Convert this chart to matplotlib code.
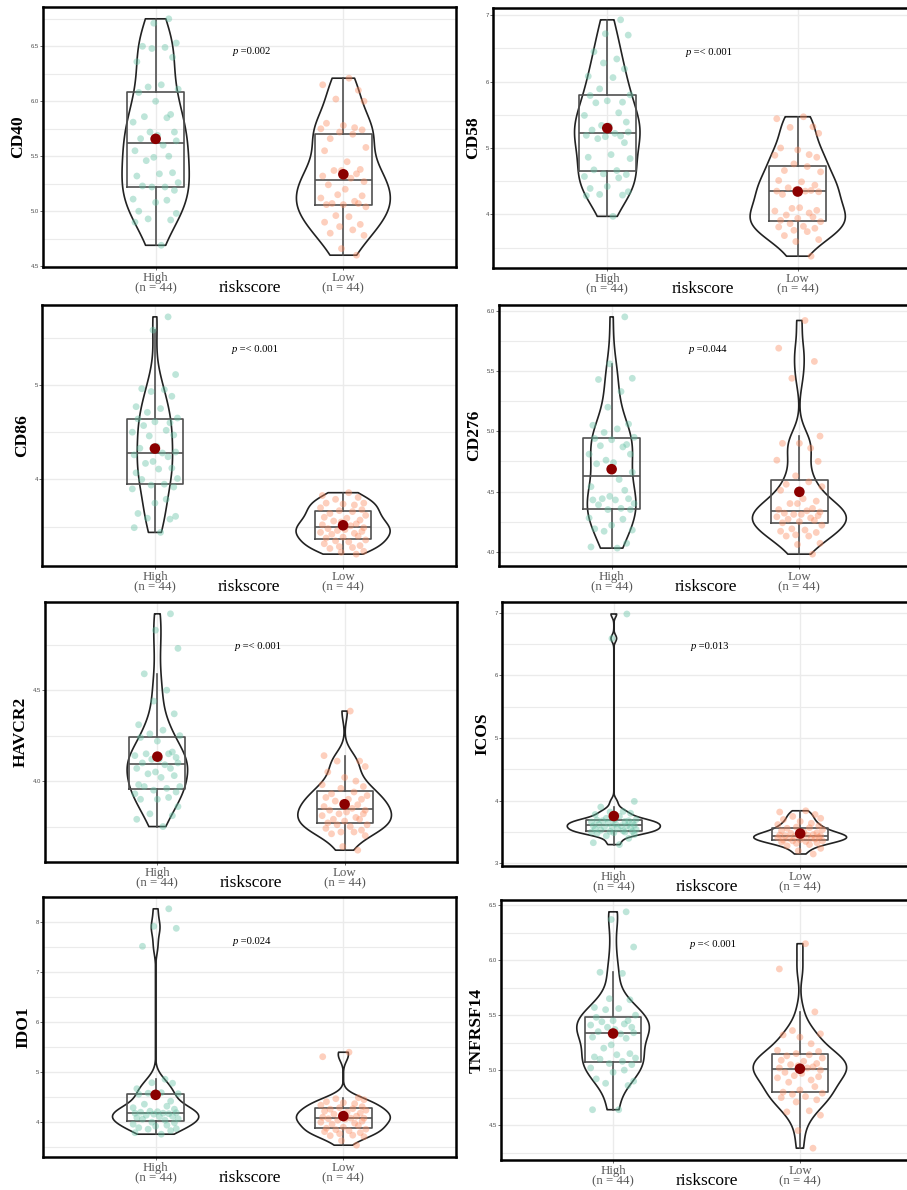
import numpy as np
import matplotlib
matplotlib.use('Agg')
import matplotlib.pyplot as plt
from matplotlib import cbook, mlab
from matplotlib.ticker import MultipleLocator, FormatStrFormatter

plt.rcParams['font.family'] = ['Liberation Sans', 'DejaVu Sans']

# ---- data (44 samples per risk group) ----
genes = ['CD40', 'CD58', 'CD86', 'CD276', 'HAVCR2', 'ICOS', 'IDO1', 'TNFRSF14']
p_labels = ['=0.002', '=< 0.001', '=< 0.001', '=0.044',
            '=< 0.001', '=0.013', '=0.024', '=< 0.001']
groups = ['High', 'Low']
group_n = [44, 44]

cd40_high = [4.69, 4.90, 4.92, 4.93, 4.98, 5.00, 5.08, 5.10, 5.11, 5.19,
             5.22, 5.22, 5.23, 5.26, 5.32, 5.34, 5.35, 5.46, 5.49, 5.50,
             5.55, 5.60, 5.64, 5.66, 5.69, 5.72, 5.72, 5.81, 5.85, 5.86,
             5.88, 6.00, 6.08, 6.11, 6.13, 6.15, 6.36, 6.40, 6.48, 6.49,
             6.50, 6.53, 6.71, 6.75]
cd40_low = [4.60, 4.66, 4.78, 4.80, 4.83, 4.86, 4.88, 4.90, 4.95, 4.96,
            5.04, 5.06, 5.06, 5.07, 5.07, 5.09, 5.12, 5.14, 5.15, 5.20,
            5.24, 5.27, 5.30, 5.32, 5.34, 5.37, 5.37, 5.38, 5.45, 5.55,
            5.58, 5.66, 5.70, 5.72, 5.74, 5.75, 5.76, 5.78, 5.80, 6.00,
            6.02, 6.10, 6.15, 6.21]
cd58_high = [3.97, 4.28, 4.29, 4.30, 4.34, 4.39, 4.42, 4.55, 4.57, 4.60,
             4.61, 4.66, 4.67, 4.84, 4.86, 4.90, 5.08, 5.14, 5.17, 5.18,
             5.19, 5.22, 5.24, 5.27, 5.33, 5.34, 5.39, 5.49, 5.53, 5.68,
             5.69, 5.71, 5.79, 5.80, 5.89, 6.06, 6.08, 6.19, 6.28, 6.34,
             6.45, 6.70, 6.72, 6.93]
cd58_low = [3.37, 3.59, 3.62, 3.68, 3.74, 3.76, 3.79, 3.81, 3.82, 3.86,
            3.89, 3.91, 3.94, 3.96, 3.99, 4.02, 4.05, 4.06, 4.09, 4.10,
            4.30, 4.34, 4.35, 4.35, 4.36, 4.37, 4.40, 4.44, 4.49, 4.51,
            4.64, 4.66, 4.72, 4.76, 4.86, 4.89, 4.90, 4.97, 5.00, 5.22,
            5.31, 5.32, 5.44, 5.47]
cd86_high = [3.44, 3.49, 3.58, 3.59, 3.61, 3.64, 3.75, 3.79, 3.90, 3.92,
             3.94, 3.95, 4.00, 4.01, 4.07, 4.11, 4.12, 4.17, 4.19, 4.24,
             4.26, 4.28, 4.29, 4.33, 4.35, 4.46, 4.47, 4.50, 4.52, 4.57,
             4.60, 4.61, 4.64, 4.65, 4.71, 4.75, 4.77, 4.88, 4.93, 4.95,
             4.96, 5.11, 5.58, 5.72]
cd86_low = [3.21, 3.23, 3.24, 3.27, 3.28, 3.29, 3.30, 3.32, 3.34, 3.35,
            3.36, 3.38, 3.39, 3.40, 3.42, 3.43, 3.44, 3.45, 3.46, 3.47,
            3.48, 3.49, 3.51, 3.52, 3.53, 3.55, 3.56, 3.57, 3.59, 3.60,
            3.62, 3.64, 3.66, 3.67, 3.68, 3.70, 3.73, 3.74, 3.75, 3.75,
            3.79, 3.81, 3.83, 3.86]
cd276_high = [4.03, 4.04, 4.07, 4.17, 4.18, 4.19, 4.22, 4.27, 4.28, 4.35,
              4.35, 4.36, 4.39, 4.40, 4.43, 4.43, 4.44, 4.44, 4.46, 4.51,
              4.54, 4.60, 4.66, 4.73, 4.74, 4.76, 4.81, 4.81, 4.87, 4.88,
              4.89, 4.93, 4.94, 4.95, 4.99, 5.02, 5.05, 5.06, 5.20, 5.33,
              5.43, 5.44, 5.56, 5.95]
cd276_low = [3.98, 4.06, 4.07, 4.13, 4.13, 4.14, 4.16, 4.17, 4.18, 4.19,
             4.22, 4.24, 4.25, 4.26, 4.27, 4.28, 4.29, 4.30, 4.31, 4.31,
             4.32, 4.33, 4.34, 4.35, 4.36, 4.40, 4.40, 4.42, 4.44, 4.51,
             4.54, 4.56, 4.58, 4.63, 4.75, 4.76, 4.86, 4.90, 4.90, 4.96,
             5.44, 5.58, 5.69, 5.92]
havcr2_high = [3.75, 3.79, 3.81, 3.82, 3.86, 3.90, 3.90, 3.91, 3.93, 3.94,
               3.95, 3.96, 3.97, 3.97, 3.98, 4.02, 4.03, 4.04, 4.05, 4.07,
               4.07, 4.09, 4.10, 4.10, 4.12, 4.12, 4.13, 4.14, 4.15, 4.15,
               4.16, 4.22, 4.24, 4.25, 4.26, 4.28, 4.31, 4.37, 4.44, 4.50,
               4.59, 4.73, 4.83, 4.92]
havcr2_low = [3.62, 3.64, 3.70, 3.71, 3.72, 3.72, 3.73, 3.74, 3.75, 3.76,
              3.76, 3.77, 3.78, 3.79, 3.79, 3.80, 3.81, 3.82, 3.82, 3.83,
              3.84, 3.84, 3.85, 3.86, 3.87, 3.88, 3.89, 3.90, 3.90, 3.91,
              3.92, 3.93, 3.94, 3.96, 3.97, 3.98, 4.00, 4.02, 4.05, 4.08,
              4.11, 4.11, 4.14, 4.385]
icos_high = [3.30, 3.33, 3.40, 3.44, 3.46, 3.48, 3.49, 3.50, 3.50, 3.51,
             3.51, 3.52, 3.53, 3.54, 3.55, 3.56, 3.57, 3.58, 3.59, 3.60,
             3.60, 3.60, 3.61, 3.62, 3.63, 3.64, 3.65, 3.66, 3.67, 3.68,
             3.68, 3.69, 3.69, 3.70, 3.72, 3.75, 3.78, 3.80, 3.82, 3.83,
             3.90, 3.99, 6.59, 6.98]
icos_low = [3.15, 3.20, 3.24, 3.28, 3.30, 3.32, 3.33, 3.34, 3.35, 3.36,
            3.36, 3.37, 3.38, 3.39, 3.40, 3.40, 3.41, 3.42, 3.43, 3.43,
            3.44, 3.44, 3.45, 3.45, 3.46, 3.47, 3.48, 3.49, 3.50, 3.52,
            3.54, 3.56, 3.57, 3.58, 3.60, 3.62, 3.64, 3.67, 3.70, 3.72,
            3.75, 3.78, 3.82, 3.84]
ido1_high = [3.75, 3.78, 3.82, 3.85, 3.86, 3.88, 3.91, 3.93, 3.95, 3.98,
             3.99, 4.03, 4.05, 4.06, 4.08, 4.10, 4.11, 4.13, 4.15, 4.16,
             4.17, 4.17, 4.18, 4.19, 4.20, 4.21, 4.25, 4.28, 4.31, 4.35,
             4.41, 4.50, 4.55, 4.56, 4.57, 4.58, 4.66, 4.77, 4.78, 4.85,
             7.51, 7.87, 7.91, 8.26]
ido1_low = [3.53, 3.62, 3.70, 3.72, 3.73, 3.76, 3.78, 3.80, 3.82, 3.84,
            3.85, 3.87, 3.89, 3.92, 3.95, 3.97, 3.99, 4.01, 4.03, 4.05,
            4.06, 4.07, 4.07, 4.09, 4.11, 4.13, 4.15, 4.17, 4.19, 4.21,
            4.23, 4.25, 4.26, 4.28, 4.30, 4.33, 4.36, 4.38, 4.40, 4.44,
            4.46, 4.48, 5.30, 5.39]
tnfrsf14_high = [4.64, 4.64, 4.86, 4.88, 4.90, 4.92, 4.98, 5.00, 5.02, 5.05,
                 5.06, 5.08, 5.10, 5.11, 5.12, 5.14, 5.15, 5.20, 5.23, 5.29,
                 5.30, 5.33, 5.34, 5.35, 5.37, 5.39, 5.39, 5.41, 5.42, 5.44,
                 5.45, 5.45, 5.48, 5.50, 5.55, 5.56, 5.57, 5.64, 5.65, 5.88,
                 5.89, 6.12, 6.37, 6.44]
tnfrsf14_low = [4.29, 4.45, 4.59, 4.62, 4.63, 4.71, 4.73, 4.75, 4.76, 4.78,
                4.79, 4.80, 4.82, 4.85, 4.89, 4.91, 4.93, 4.94, 4.95, 4.97,
                4.98, 5.00, 5.02, 5.02, 5.03, 5.04, 5.05, 5.06, 5.08, 5.09,
                5.11, 5.13, 5.14, 5.15, 5.17, 5.18, 5.24, 5.30, 5.32, 5.33,
                5.36, 5.53, 5.92, 6.15]

high_values = [cd40_high, cd58_high, cd86_high, cd276_high,
               havcr2_high, icos_high, ido1_high, tnfrsf14_high]
low_values = [cd40_low, cd58_low, cd86_low, cd276_low,
              havcr2_low, icos_low, ido1_low, tnfrsf14_low]

# horizontal jitter offsets for the points
jitter = [0.03, -0.11, 0.08, -0.04, 0.11, -0.09, 0.00, 0.06, -0.12, 0.10,
          -0.02, 0.05, -0.07, 0.12, -0.10, 0.02, 0.09, -0.05, -0.01, 0.07,
          -0.11, 0.04, 0.11, -0.08, 0.01, -0.03, 0.10, -0.12, 0.06, -0.06,
          0.08, 0.00, -0.09, 0.12, -0.04, 0.03, -0.10, 0.09, -0.02, 0.05,
          -0.07, 0.11, -0.01, 0.07]

# ---- layout (pixel boxes of each panel: left, top, right, bottom) ----
W, H = 907, 1190
boxes = [(43, 7, 456, 267), (493, 8, 912, 268),
         (42, 305, 456, 566), (499, 305, 912, 566),
         (45, 602, 457, 862), (502, 602, 912, 866),
         (43, 897, 456, 1157), (501, 900, 912, 1160)]
tick_steps = [0.5, 1, 1, 0.5, 0.5, 1, 1, 0.5]

colors = ['#66C2A5', '#FC8D62']
serif = 'Liberation Serif'
box_c = '#505050'


def nrd0_kde(x, coords):
    # gaussian kde with R's default bandwidth (bw.nrd0)
    x = np.asarray(x, dtype=float)
    sd = np.std(x, ddof=1)
    q75, q25 = np.percentile(x, [75, 25])
    bw = 0.9 * min(sd, (q75 - q25) / 1.34) * len(x) ** -0.2
    kde = mlab.GaussianKDE(x, bw_method=bw / sd)
    return kde.evaluate(coords)


fig = plt.figure(figsize=(W / 100, H / 100), dpi=100)

for i, gene in enumerate(genes):
    l, t, r, b = boxes[i]
    ax = fig.add_axes([l / W, 1 - b / H, (r - l) / W, (b - t) / H])
    data = [np.array(high_values[i]), np.array(low_values[i])]

    # violins, area-scaled like ggplot
    stats = cbook.violin_stats(data, nrd0_kde, points=200)
    peaks = [s['vals'].max() for s in stats]
    widths = [0.5 * p / max(peaks) for p in peaks]
    parts = ax.violin(stats, positions=[1, 2], widths=widths,
                      showmeans=False, showextrema=False, showmedians=False)
    for body in parts['bodies']:
        body.set_alpha(1)
        body.set_facecolor('none')
        body.set_edgecolor('#222222')
        body.set_linewidth(1.2)
        body.set_zorder(2)

    ax.boxplot(data, positions=[1, 2], widths=0.3, showfliers=False, whis=1.5,
               manage_ticks=False,
               boxprops=dict(color=box_c, lw=1.2),
               whiskerprops=dict(color=box_c, lw=1.2),
               medianprops=dict(color=box_c, lw=1.2),
               capprops=dict(lw=0), zorder=3)

    for k, vals in enumerate(data):
        jit = np.array(jitter if k == 0 else jitter[::-1])
        ax.scatter(k + 1 + jit, vals, s=24, color=colors[k], alpha=0.42,
                   edgecolors='none', zorder=4)
        ax.scatter([k + 1], [vals.mean()], s=58, color='#8B0000',
                   edgecolors='none', zorder=5)

    allv = np.concatenate(data)
    pad = 0.05 * (allv.max() - allv.min())
    ax.set_ylim(allv.min() - pad, allv.max() + pad)
    ax.set_xlim(0.4, 2.6)

    step = tick_steps[i]
    ax.yaxis.set_major_locator(MultipleLocator(step))
    ax.yaxis.set_minor_locator(MultipleLocator(step / 2))
    ax.yaxis.set_major_formatter(FormatStrFormatter('%d' if step == 1 else '%.1f'))
    ax.grid(which='major', color='#ebebeb', lw=1.0)
    ax.grid(which='minor', axis='y', color='#ebebeb', lw=0.8)
    ax.set_axisbelow(True)

    ax.set_xticks([1, 2])
    ax.set_xticklabels([f'{g}\n(n = {n})' for g, n in zip(groups, group_n)],
                       fontfamily=serif, fontsize=9.3, color='#5a5a5a',
                       linespacing=0.8)
    ax.tick_params(axis='x', length=2, width=0.5, color='#333333', pad=1.5)
    ax.tick_params(axis='y', which='major', length=2, width=0.5, color='#333333',
                   labelsize=4.3, labelcolor='#4d4d4d', pad=1)
    ax.tick_params(axis='y', which='minor', length=0)

    for sp in ax.spines.values():
        sp.set_linewidth(1.8)
        sp.set_color('black')

    ax.set_ylabel(gene, fontfamily=serif, fontweight='bold', fontsize=12.5,
                  labelpad=3)
    ax.set_xlabel('riskscore', fontfamily=serif, fontsize=12.5)
    ax.xaxis.set_label_coords(0.5, -13 / (b - t))

    # p-value annotation: italic "p" followed by the value
    pt = ax.text(1.41, 0.83, 'p', transform=ax.get_xaxis_transform(),
                 fontfamily=serif, fontstyle='italic', fontsize=7.7,
                 va='center', ha='left')
    ax.annotate(' ' + p_labels[i], xy=(1, 0), xycoords=pt, va='bottom',
                ha='left', fontfamily=serif, fontsize=7.7)

fig.savefig('out.png', dpi=100, facecolor='white')
